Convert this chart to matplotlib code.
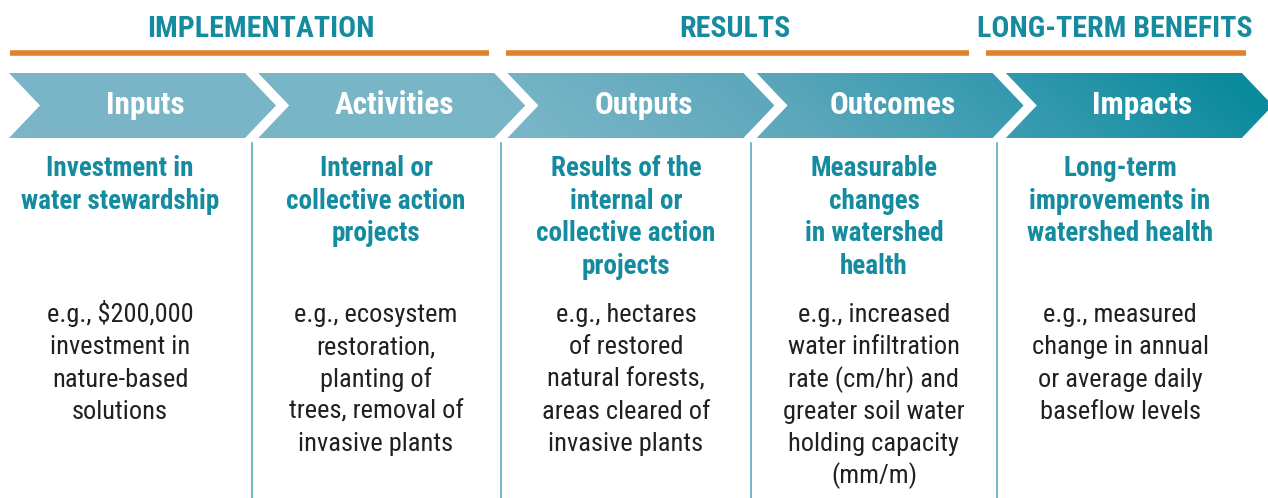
import matplotlib
matplotlib.use("Agg")
import matplotlib.pyplot as plt
import numpy as np
from matplotlib.patches import Polygon
from matplotlib import font_manager
from matplotlib.colors import LinearSegmentedColormap

# ---- data ----
groups = ["IMPLEMENTATION", "RESULTS", "LONG-TERM BENEFITS"]
group_spans = [(10, 489), (506, 969), (986, 1246)]
group_centers = [261, 735, 1115]
stages = ["Inputs", "Activities", "Outputs", "Outcomes", "Impacts"]
definitions = [
    ["Investment in", "water stewardship"],
    ["Internal or", "collective action", "projects"],
    ["Results of the", "internal or", "collective action", "projects"],
    ["Measurable", "changes", "in watershed", "health"],
    ["Long-term", "improvements in", "watershed health"],
]
examples = [
    ["e.g., $200,000", "investment in", "nature-based", "solutions"],
    ["e.g., ecosystem", "restoration,", "planting of", "trees, removal of", "invasive plants"],
    ["e.g., hectares", "of restored", "natural forests,", "areas cleared of", "invasive plants"],
    ["e.g., increased", "water infiltration", "rate (cm/hr) and", "greater soil water", "holding capacity", "(mm/m)"],
    ["e.g., measured", "change in annual", "or average daily", "baseflow levels"],
]

# ---- style ----
avail = {f.name for f in font_manager.fontManager.ttflist}
FONT = "Roboto Condensed" if "Roboto Condensed" in avail else "Roboto"
TEAL = "#148b9f"
ORANGE = "#e0812b"
BODY = "#231f20"
LINE = "#5aabbd"

W, H = 1268, 498
fig = plt.figure(figsize=(W / 100, H / 100), dpi=100)
ax = fig.add_axes([0, 0, 1, 1])
ax.set_xlim(0, W)
ax.set_ylim(H, 0)
ax.axis("off")

# group headers and orange rules
for name, (x0, x1), gc in zip(groups, group_spans, group_centers):
    ax.plot([x0, x1], [53, 53], color=ORANGE, lw=4, solid_capstyle="butt")
    ax.text(gc, 37, name, ha="center", va="baseline",
            fontsize=21.5, fontweight="bold", color=TEAL, family=FONT)

# chevrons with gradient
pitch = 249.2
top, bot = 73, 138
mid = (top + bot) / 2
depth = 31
width = 236
cmap = LinearSegmentedColormap.from_list(
    "g", [(0, "#7ab6c7"), (0.40, "#78b5c6"), (0.62, "#5ca7bb"), (0.82, "#3299ae"), (1.0, "#0a8a9c")])
gx = np.linspace(0, 1, 600)
gy = np.linspace(0, 1, 40)
GX, GY = np.meshgrid(gx, gy)
grad = np.clip(GX - 0.06 * (GY - 0.5), 0, 1)

for k, name in enumerate(stages):
    x0 = 9 + pitch * k
    x1 = x0 + width
    pts = [(x0, top), (x1, top), (x1 + depth, mid), (x1, bot), (x0, bot), (x0 + depth, mid)]
    poly = Polygon(pts, closed=True, facecolor="none", edgecolor="none")
    ax.add_patch(poly)
    im = ax.imshow(grad, cmap=cmap, extent=(0, W, bot, top), aspect="auto",
                   interpolation="bilinear", zorder=1)
    im.set_clip_path(poly)
    cx = x0 + depth / 2 + width / 2 + 3
    ax.text(cx, 114, name, ha="center", va="baseline", fontsize=22.5,
            fontweight="bold", color="white", family=FONT, zorder=3)

# column separators
for xs in [252, 501, 751, 997]:
    ax.plot([xs, xs], [143, H], color=LINE, lw=1.2)

# column texts
centers = [120, 376, 626, 874, 1120]
for cx, dlines, elines in zip(centers, definitions, examples):
    for i, t in enumerate(dlines):
        ax.text(cx, 176 + 32.7 * i, t, ha="center", va="baseline", fontsize=19.5,
                fontweight="bold", color=TEAL, family=FONT)
    for i, t in enumerate(elines):
        ax.text(cx, 322 + 32.3 * i, t, ha="center", va="baseline", fontsize=19,
                color=BODY, family=FONT)

fig.savefig("out.png", dpi=100)
